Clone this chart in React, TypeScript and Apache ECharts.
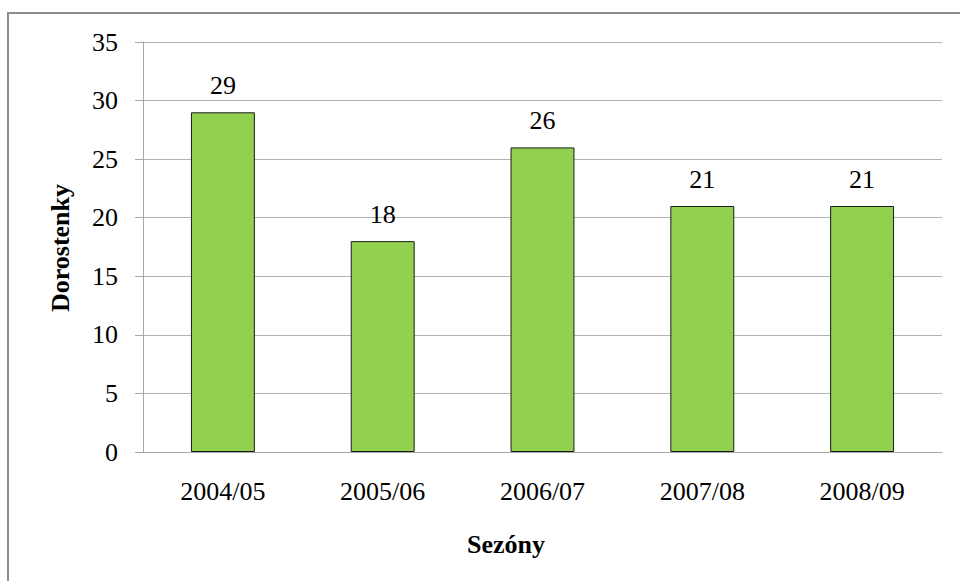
import React, { useEffect, useRef } from "react";
import * as echarts from "echarts";

const categories = ["2004/05", "2005/06", "2006/07", "2007/08", "2008/09"];
const values = [29, 18, 26, 21, 21];
const yTicks = [0, 5, 10, 15, 20, 25, 30, 35];
const xTitle = "Sezóny";
const yTitle = "Dorostenky";

const FONT = "Liberation Serif";

export default function App() {
  const ref = useRef<HTMLDivElement>(null);
  useEffect(() => {
    if (!ref.current) return;
    const chart = echarts.init(ref.current, null, { renderer: "svg" });
    chart.setOption({
      animation: false,
      backgroundColor: "#ffffff",
      textStyle: { fontFamily: FONT },
      grid: { left: 143, right: 18, top: 42, bottom: 129, containLabel: false },
      xAxis: {
        type: "category",
        data: categories,
        axisLine: { show: true, lineStyle: { color: "#a6a6a6", width: 1 } },
        axisTick: { show: false },
        axisLabel: { color: "#000", fontFamily: FONT, fontSize: 26, margin: 26 },
        splitLine: { show: false },
      },
      yAxis: {
        type: "value",
        min: yTicks[0],
        max: yTicks[yTicks.length - 1],
        interval: yTicks[1] - yTicks[0],
        axisLine: { show: true, lineStyle: { color: "#a6a6a6", width: 1 } },
        axisTick: { show: true, length: 8, lineStyle: { color: "#a6a6a6" } },
        axisLabel: { color: "#000", fontFamily: FONT, fontSize: 26, margin: 25 },
        splitLine: { show: true, lineStyle: { color: "#b3b3b3", width: 1 } },
      },
      series: [
        {
          type: "bar",
          data: values,
          barWidth: "40%",
          itemStyle: { color: "#92d050", borderColor: "#1a1a1a", borderWidth: 1 },
          label: {
            show: true,
            position: "top",
            distance: 14,
            color: "#000",
            fontFamily: FONT,
            fontSize: 26,
          },
        },
      ],
      graphic: [
        {
          type: "rect",
          shape: { x: 8, y: 13, width: 1100, height: 700 },
          style: { fill: "none", stroke: "#8c8c8c", lineWidth: 2 },
          silent: true,
        },
        {
          type: "text",
          x: 506,
          y: 544,
          style: {
            text: xTitle,
            fontFamily: FONT,
            fontWeight: "bold",
            fontSize: 26,
            fill: "#000",
            align: "center",
            verticalAlign: "middle",
          },
        },
        {
          type: "text",
          x: 60,
          y: 248,
          rotation: Math.PI / 2,
          style: {
            text: yTitle,
            fontFamily: FONT,
            fontWeight: "bold",
            fontSize: 26,
            fill: "#000",
            align: "center",
            verticalAlign: "middle",
          },
        },
      ],
    });
    return () => chart.dispose();
  }, []);
  return (
    <div>
      <div
        ref={ref}
        style={{ position: "absolute", left: 0, top: 0, width: 960, height: 581 }}
      />
    </div>
  );
}
